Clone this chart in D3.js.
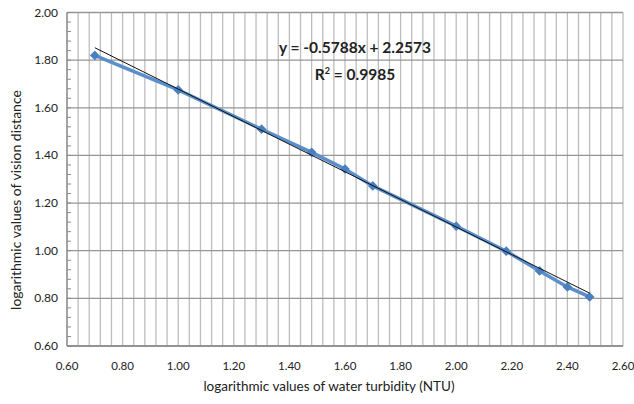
<!DOCTYPE html>
<html>
<head>
<meta charset="utf-8">
<script src="https://cdn.jsdelivr.net/npm/d3@7"></script>
<style>
  body { margin: 0; background: #fff; }
  svg text { font-family: Lato, "Open Sans", sans-serif; fill: #222; }
</style>
</head>
<body>
<div id="chart"></div>
<script>
// log10 turbidity (NTU) vs log10 vision distance
const turbidity = [0.70, 1.00, 1.30, 1.48, 1.60, 1.70, 2.00, 2.18, 2.30, 2.40, 2.48];
const distance = [1.82, 1.675, 1.51, 1.413, 1.343, 1.272, 1.103, 0.998, 0.915, 0.848, 0.806];
const slope = -0.5788;
const intercept = 2.2573;
const xTicks = [0.6, 0.8, 1.0, 1.2, 1.4, 1.6, 1.8, 2.0, 2.2, 2.4, 2.6];
const yTicks = [0.6, 0.8, 1.0, 1.2, 1.4, 1.6, 1.8, 2.0];

const width = 634;
const height = 404;
const margin = { left: 67, right: 11, top: 12.5, bottom: 58 };

const svg = d3.select("#chart")
  .append("svg")
  .attr("width", width)
  .attr("height", height);

const x = d3.scaleLinear().domain([0.6, 2.6]).range([margin.left, width - margin.right]);
const y = d3.scaleLinear().domain([0.6, 2.0]).range([height - margin.bottom, margin.top]);

// minor grid (every 0.04)
const minor = d3.range(0, 51).map((i) => 0.6 + i * 0.04);
svg.append("g")
  .selectAll("line")
  .data(minor)
  .join("line")
  .attr("x1", (d) => x(d)).attr("x2", (d) => x(d))
  .attr("y1", y(0.6)).attr("y2", y(2.0))
  .attr("stroke", "#bdbdbd")
  .attr("stroke-width", 1.3);

// horizontal major grid
svg.append("g")
  .selectAll("line")
  .data(yTicks)
  .join("line")
  .attr("x1", x(0.6)).attr("x2", x(2.6))
  .attr("y1", (d) => y(d)).attr("y2", (d) => y(d))
  .attr("stroke", "#969696")
  .attr("stroke-width", 1.3);

// y minor ticks inside the axis
const yMinor = d3.range(0, 36).map((i) => 0.6 + i * 0.04);
svg.append("g")
  .selectAll("line")
  .data(yMinor)
  .join("line")
  .attr("x1", x(0.6)).attr("x2", x(0.6) + 4)
  .attr("y1", (d) => y(d)).attr("y2", (d) => y(d))
  .attr("stroke", "#8a8a8a");

// axes lines
svg.append("line")
  .attr("x1", x(0.6)).attr("x2", x(0.6))
  .attr("y1", y(0.6)).attr("y2", y(2.0))
  .attr("stroke", "#8a8a8a").attr("stroke-width", 1.3);
svg.append("line")
  .attr("x1", x(0.6)).attr("x2", x(2.6))
  .attr("y1", y(0.6)).attr("y2", y(0.6))
  .attr("stroke", "#8a8a8a").attr("stroke-width", 1.3);

// tick labels
svg.append("g")
  .selectAll("text")
  .data(yTicks)
  .join("text")
  .attr("x", x(0.6) - 9)
  .attr("y", (d) => y(d) + 4)
  .attr("text-anchor", "end")
  .attr("font-size", "12px")
  .text((d) => d.toFixed(2));

svg.append("g")
  .selectAll("text")
  .data(xTicks)
  .join("text")
  .attr("x", (d) => x(d))
  .attr("y", y(0.6) + 24)
  .attr("text-anchor", "middle")
  .attr("font-size", "11.5px")
  .text((d) => d.toFixed(2));

// data line
const line = d3.line().x((d) => x(d[0])).y((d) => y(d[1]));
const pts = turbidity.map((t, i) => [t, distance[i]]);
svg.append("path")
  .datum(pts)
  .attr("d", line)
  .attr("fill", "none")
  .attr("stroke", "#5b8fcc")
  .attr("stroke-width", 3.5);

svg.append("g")
  .selectAll("path")
  .data(pts)
  .join("path")
  .attr("transform", (d) => `translate(${x(d[0])},${y(d[1])})`)
  .attr("d", d3.symbol().type(d3.symbolDiamond2).size(60))
  .attr("fill", "#4a7fc0");

// trend line
const x0 = turbidity[0];
const x1 = turbidity[turbidity.length - 1];
svg.append("line")
  .attr("x1", x(x0)).attr("y1", y(slope * x0 + intercept))
  .attr("x2", x(x1)).attr("y2", y(slope * x1 + intercept))
  .attr("stroke", "#111")
  .attr("stroke-width", 1);

// equation
const eq = svg.append("g").attr("font-weight", "bold").attr("font-size", "15.5px");
eq.append("text")
  .attr("x", 355).attr("y", 53)
  .attr("text-anchor", "middle")
  .text("y = -0.5788x + 2.2573");
const r2 = eq.append("text")
  .attr("x", 355).attr("y", 80)
  .attr("text-anchor", "middle");
r2.append("tspan").text("R");
r2.append("tspan").attr("dy", -6).attr("font-size", "9px").text("2");
r2.append("tspan").attr("dy", 6).text(" = 0.9985");

// axis titles
svg.append("text")
  .attr("transform", `translate(21,200) rotate(-90)`)
  .attr("text-anchor", "middle")
  .attr("font-size", "14px")
  .text("logarithmic values of  vision distance");

svg.append("text")
  .attr("x", 329)
  .attr("y", 391)
  .attr("text-anchor", "middle")
  .attr("font-size", "13.5px")
  .text("logarithmic values of water turbidity (NTU)");
</script>
</body>
</html>
